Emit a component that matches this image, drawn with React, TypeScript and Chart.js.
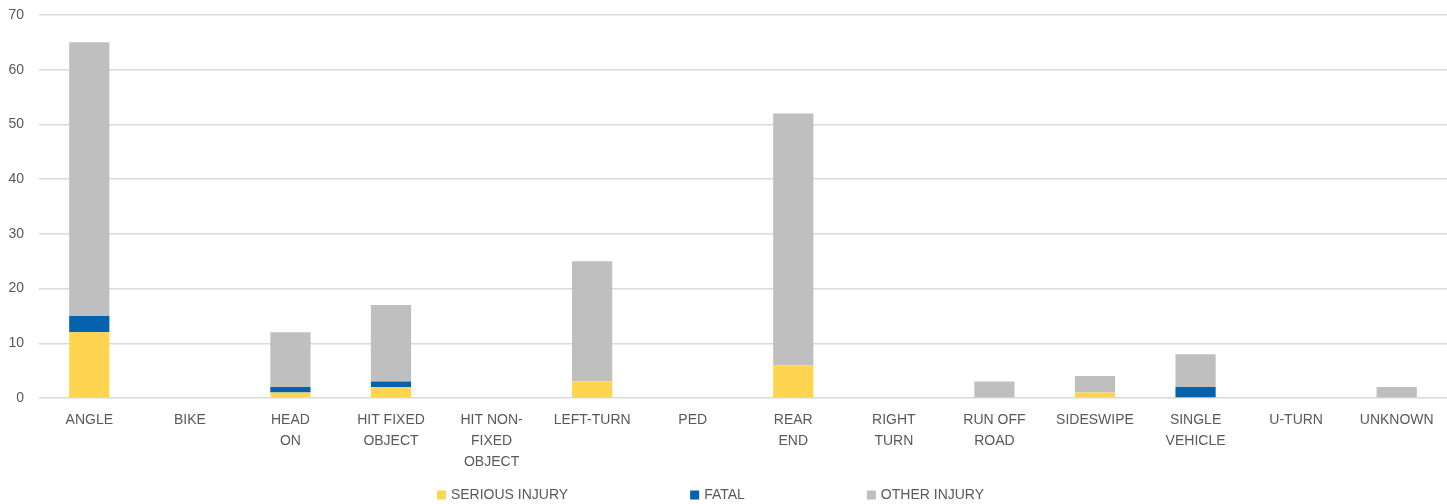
import React, { useEffect, useRef } from "react";
import { Chart, registerables } from "chart.js";

Chart.register(...registerables);

const categories: (string | string[])[] = [
  "ANGLE",
  "BIKE",
  ["HEAD", "ON"],
  ["HIT FIXED", "OBJECT"],
  ["HIT NON-", "FIXED", "OBJECT"],
  "LEFT-TURN",
  "PED",
  ["REAR", "END"],
  ["RIGHT", "TURN"],
  ["RUN OFF", "ROAD"],
  "SIDESWIPE",
  ["SINGLE", "VEHICLE"],
  "U-TURN",
  "UNKNOWN",
];

const seriesLabels = ["SERIOUS INJURY", "FATAL", "OTHER INJURY"];
const seriousInjury = [12, 0, 1, 2, 0, 3, 0, 6, 0, 0, 1, 0, 0, 0];
const fatal = [3, 0, 1, 1, 0, 0, 0, 0, 0, 0, 0, 2, 0, 0];
const otherInjury = [50, 0, 10, 14, 0, 22, 0, 46, 0, 3, 3, 6, 0, 2];

const yTicks = [0, 10, 20, 30, 40, 50, 60, 70];

const FONT = "'Liberation Sans', Arial, sans-serif";
const TEXT_COLOR = "#595959";

const bottomLegend = {
  id: "bottomLegend",
  afterDraw(chart: any) {
    const ctx = chart.ctx as CanvasRenderingContext2D;
    ctx.save();
    ctx.font = `14px ${FONT}`;
    ctx.textBaseline = "middle";
    ctx.textAlign = "left";
    const boxSize = 9;
    const boxGap = 5;
    const itemGap = 122;
    const items = chart.data.datasets.map((ds: any) => ({
      label: ds.label as string,
      color: ds.backgroundColor as string,
    }));
    const widths = items.map(
      (it: any) => boxSize + boxGap + ctx.measureText(it.label).width
    );
    const total =
      widths.reduce((a: number, b: number) => a + b, 0) +
      itemGap * (items.length - 1);
    let x = (chart.width - total) / 2 - 13;
    const yc = chart.height - 9;
    items.forEach((it: any, i: number) => {
      ctx.fillStyle = it.color;
      ctx.fillRect(x, yc - boxSize / 2, boxSize, boxSize);
      ctx.fillStyle = TEXT_COLOR;
      ctx.fillText(it.label, x + boxSize + boxGap, yc);
      x += widths[i] + itemGap;
    });
    ctx.restore();
  },
};

export default function App() {
  const ref = useRef<HTMLCanvasElement | null>(null);

  useEffect(() => {
    if (!ref.current) return;
    const chart = new Chart(ref.current, {
      type: "bar",
      data: {
        labels: categories,
        datasets: [
          { label: seriesLabels[0], data: seriousInjury, backgroundColor: "#FFD44F" },
          { label: seriesLabels[1], data: fatal, backgroundColor: "#0563AE" },
          { label: seriesLabels[2], data: otherInjury, backgroundColor: "#BFBFBF" },
        ],
      },
      options: {
        animation: false,
        responsive: false,
        maintainAspectRatio: false,
        layout: { padding: { left: 0, right: 0, top: 0, bottom: 27 } },
        datasets: {
          bar: { categoryPercentage: 1, barPercentage: 0.4 },
        },
        plugins: {
          tooltip: { enabled: false },
          legend: { display: false },
        },
        scales: {
          x: {
            stacked: true,
            grid: { display: false },
            border: { display: false },
            ticks: {
              color: TEXT_COLOR,
              font: { family: FONT, size: 14, lineHeight: 1.5 },
              maxRotation: 0,
              autoSkip: false,
              padding: 4,
            },
          },
          y: {
            stacked: true,
            min: yTicks[0],
            max: yTicks[yTicks.length - 1],
            afterBuildTicks: (axis: any) => {
              axis.ticks = yTicks.map((v) => ({ value: v }));
            },
            afterFit: (axis: any) => {
              axis.width = 39;
              axis.paddingTop = 15;
            },
            grid: { color: "#D9D9D9", lineWidth: 1.5, drawTicks: false },
            border: { display: false },
            ticks: {
              color: TEXT_COLOR,
              font: { family: FONT, size: 14 },
              padding: 15,
            },
          },
        },
      },
      plugins: [bottomLegend],
    });
    return () => chart.destroy();
  }, []);

  return (
    <div style={{ position: "fixed", left: 0, top: 0, width: 1447, height: 504, background: "#fff" }}>
      <canvas ref={ref} width={1447} height={504} style={{ width: 1447, height: 504 }} />
    </div>
  );
}
